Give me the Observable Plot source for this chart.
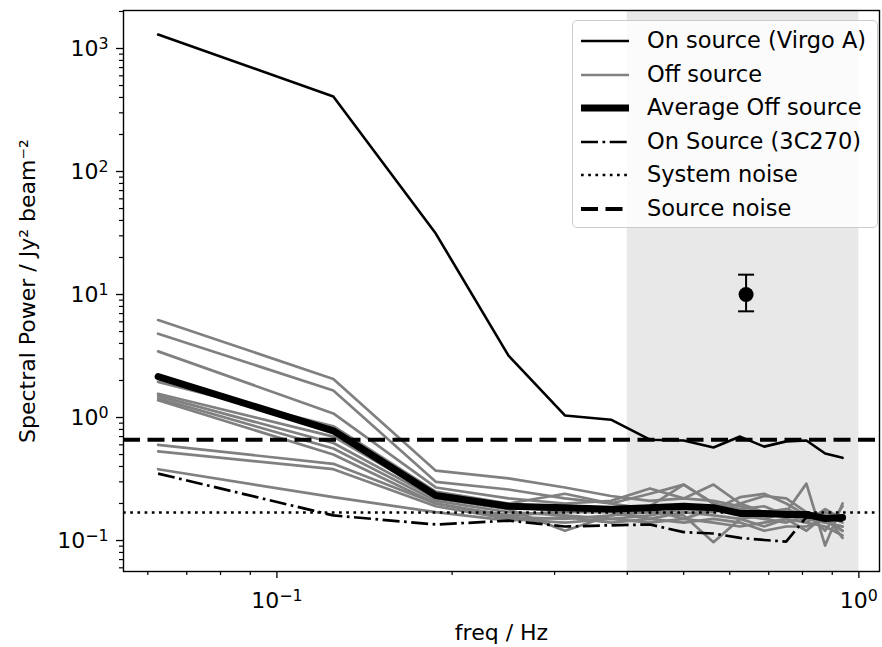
<!DOCTYPE html>
<html><head><meta charset="utf-8">
<script src="https://cdn.jsdelivr.net/npm/d3@7"></script>
<script src="https://cdn.jsdelivr.net/npm/@observablehq/plot@0.6"></script>
<style>
body{margin:0;background:#fff;font-family:"DejaVu Sans",sans-serif;}
#wrap{position:relative;width:882px;height:647px;}
#legend{position:absolute;left:572px;top:20px;width:306px;height:208px;border:1.5px solid #ccc;border-radius:5px;background:rgba(255,255,255,0.8);box-sizing:border-box;}
.row{position:absolute;left:0;height:34px;width:300px;font-size:22.5px;color:#000;}
.row svg{position:absolute;left:6px;top:0;}
.row span{position:absolute;left:74px;top:2px;white-space:nowrap;}
</style></head><body><div id="wrap"></div>
<script>
// ---- data ----
const freq = [0.0625,0.125,0.1875,0.25,0.3125,0.375,0.4375,0.5,0.5625,0.625,0.6875,0.75,0.8125,0.875,0.9375];
const virgoA = [1300,407,31.3,3.19,1.04,0.96,0.66,0.65,0.57,0.70,0.58,0.64,0.65,0.51,0.47];
const avgOff = [2.15,0.78,0.232,0.19,0.185,0.18,0.185,0.19,0.185,0.166,0.166,0.163,0.163,0.151,0.154];
const src3C270 = [0.35,0.16,0.135,0.145,0.13,0.133,0.135,0.117,0.114,0.105,0.101,0.098,0.155,0.15,0.145];
const off1 = [6.2,2.06,0.37,0.32,0.27,0.23,0.21,0.22,0.21,0.19,0.17,0.16,0.15,0.14,0.13];
const off2 = [4.8,1.66,0.30,0.26,0.22,0.20,0.24,0.285,0.20,0.18,0.19,0.16,0.15,0.16,0.14];
const off3 = [3.45,1.08,0.27,0.22,0.20,0.21,0.265,0.22,0.285,0.20,0.17,0.18,0.16,0.15,0.12];
const off4 = [1.95,0.85,0.25,0.20,0.24,0.20,0.18,0.19,0.18,0.225,0.24,0.20,0.16,0.17,0.15];
const off5 = [1.56,0.70,0.23,0.19,0.17,0.18,0.19,0.285,0.20,0.17,0.15,0.17,0.29,0.091,0.20];
const off6 = [1.50,0.62,0.22,0.18,0.12,0.16,0.17,0.16,0.097,0.15,0.16,0.18,0.14,0.13,0.11];
const off7 = [1.43,0.56,0.21,0.17,0.16,0.15,0.16,0.18,0.17,0.20,0.23,0.22,0.17,0.12,0.19];
const off8 = [1.38,0.50,0.20,0.16,0.17,0.17,0.15,0.17,0.16,0.15,0.13,0.15,0.14,0.18,0.15];
const off9 = [0.60,0.42,0.20,0.155,0.15,0.16,0.18,0.15,0.18,0.16,0.15,0.14,0.16,0.14,0.13];
const off10 = [0.53,0.38,0.19,0.15,0.14,0.15,0.14,0.15,0.14,0.13,0.14,0.15,0.12,0.16,0.105];
const off11 = [0.38,0.225,0.17,0.145,0.155,0.14,0.15,0.14,0.15,0.14,0.12,0.13,0.13,0.15,0.12];
const offSeries = [off1,off2,off3,off4,off5,off6,off7,off8,off9,off10,off11];
const systemNoise = [0.169];
const sourceNoise = [0.66];
const shadeFrom = [0.4], shadeTo = [1.0];
const errFreq = [0.64], errValue = [10], errLow = [7.3], errHigh = [14.5];
const yTicks = [0.1,1,10,100,1000];
const yTickLabels = ["10\u207B\u00B9","10\u2070","10\u00B9","10\u00B2","10\u00B3"];
const xTicks = [0.1,1];
const xTickLabels = ["10\u207B\u00B9","10\u2070"];
const legendLabels = ["On source (Virgo A)","Off source","Average Off source","On Source (3C270)","System noise","Source noise"];
const xLabel = "freq / Hz";
const yLabel = "Spectral Power / Jy\u00B2 beam\u207B\u00B2";

// ---- build tables ----
const toRows = (vals, name) => vals.map((v,i)=>({f:freq[i], v, s:name}));
const offRows = offSeries.flatMap((s,k)=>toRows(s, "off"+k));
const virgoRows = toRows(virgoA,"virgo");
const avgRows = toRows(avgOff,"avg");
const c270Rows = toRows(src3C270,"3c270");
const shade = shadeFrom.map((a,i)=>({x1:a, x2:shadeTo[i]}));
const err = errFreq.map((f,i)=>({f, v:errValue[i], lo:errLow[i], hi:errHigh[i]}));

const xDomain = [0.0545, 1.085], yDomain = [0.056, 2037];
const minorTicks = (lo, hi) => {
  const out = [];
  for (let e = Math.floor(Math.log10(lo)); e <= Math.ceil(Math.log10(hi)); e++)
    for (let m = 2; m <= 9; m++) { const t = m * Math.pow(10, e); if (t >= lo && t <= hi) out.push(+t.toPrecision(3)); }
  return out;
};
const capSymbol = {draw(ctx){ ctx.moveTo(-8,0); ctx.lineTo(8,0); }};

const chart = Plot.plot({
  width: 882, height: 647,
  marginLeft: 123, marginRight: 3, marginTop: 10, marginBottom: 76,
  style: {fontFamily: "DejaVu Sans, sans-serif", fontSize: "22px", background: "white", color: "black"},
  x: {type: "log", domain: xDomain},
  y: {type: "log", domain: yDomain},
  marks: [
    Plot.rect(shade, {x1: "x1", x2: "x2", fill: "#e8e8e8"}),
    Plot.line(virgoRows, {x: "f", y: "v", stroke: "black", strokeWidth: 2.6}),
    Plot.line(offRows, {x: "f", y: "v", z: "s", stroke: "#808080", strokeWidth: 2.7}),
    Plot.line(avgRows, {x: "f", y: "v", stroke: "black", strokeWidth: 7}),
    Plot.line(c270Rows, {x: "f", y: "v", stroke: "black", strokeWidth: 2.7, strokeDasharray: "17,4.5,2.7,4.5", strokeLinecap: "butt"}),
    Plot.ruleY(systemNoise, {stroke: "black", strokeWidth: 2.7, strokeDasharray: "2.7,4.5"}),
    Plot.ruleY(sourceNoise, {stroke: "black", strokeWidth: 4, strokeDasharray: "17,7.5"}),
    Plot.ruleX(err, {x: "f", y1: "lo", y2: "hi", stroke: "black", strokeWidth: 2}),
    Plot.dot(err, {x: "f", y: "lo", symbol: capSymbol, stroke: "black", strokeWidth: 2, fill: "none", r: 8}),
    Plot.dot(err, {x: "f", y: "hi", symbol: capSymbol, stroke: "black", strokeWidth: 2, fill: "none", r: 8}),
    Plot.dot(err, {x: "f", y: "v", fill: "black", r: 7.5}),
    Plot.axisY(minorTicks(yDomain[0], yDomain[1]), {anchor: "left", tickSize: 4, tickFormat: () => "", label: null, strokeWidth: 1.2}),
    Plot.axisY(yTicks, {anchor: "left", tickSize: 7, tickPadding: 8, strokeWidth: 1.3,
      tickFormat: d => yTickLabels[yTicks.indexOf(d)],
      label: yLabel, labelAnchor: "center", labelArrow: "none", labelOffset: 104}),
    Plot.axisX(minorTicks(xDomain[0], xDomain[1]), {anchor: "bottom", tickSize: 4, tickFormat: () => "", label: null, strokeWidth: 1.2}),
    Plot.axisX(xTicks, {anchor: "bottom", tickSize: 7, tickPadding: 14, strokeWidth: 1.3,
      tickFormat: d => xTickLabels[xTicks.indexOf(d)],
      label: xLabel, labelAnchor: "center", labelArrow: "none", labelOffset: 68}),
    Plot.frame({stroke: "black", strokeWidth: 1.4})
  ]
});
const wrap = document.getElementById("wrap");
wrap.appendChild(chart);

// larger, mathtext-like superscripts on the tick labels (still real text)
const supMap = {"\u207B":"\u2212","\u2070":"0","\u00B9":"1","\u00B2":"2","\u00B3":"3"};
d3.select(chart).selectAll('g[aria-label="y-axis tick label"] text, g[aria-label="x-axis tick label"] text').each(function(){
  const t = this.textContent;
  if (!t || t.length < 3 || !t.startsWith("10")) return;
  const exp = [...t.slice(2)].map(c => supMap[c] ?? c).join("");
  const sel = d3.select(this);
  sel.text("10");
  sel.append("tspan").attr("dy", "-0.42em").attr("font-size", "0.72em").text(exp);
});

// ---- legend ----
const styles = [
  {w: 2.6, dash: null, c: "black"},
  {w: 2.7, dash: null, c: "#808080"},
  {w: 7, dash: null, c: "black"},
  {w: 2.7, dash: "17,4.5,2.7,4.5", c: "black"},
  {w: 2.7, dash: "2.7,4.5", c: "black"},
  {w: 4, dash: "17,7.5", c: "black"}
];
const leg = document.createElement("div");
leg.id = "legend";
legendLabels.forEach((lab, i) => {
  const row = document.createElement("div");
  row.className = "row";
  row.style.top = (4 + i * 33.6) + "px";
  const st = styles[i];
  row.innerHTML = `<svg width="52" height="34"><line x1="2" x2="50" y1="16" y2="16" stroke="${st.c}" stroke-width="${st.w}" ${st.dash ? `stroke-dasharray="${st.dash}"` : ""}/></svg><span>${lab}</span>`;
  leg.appendChild(row);
});
wrap.appendChild(leg);
</script>
</body></html>
